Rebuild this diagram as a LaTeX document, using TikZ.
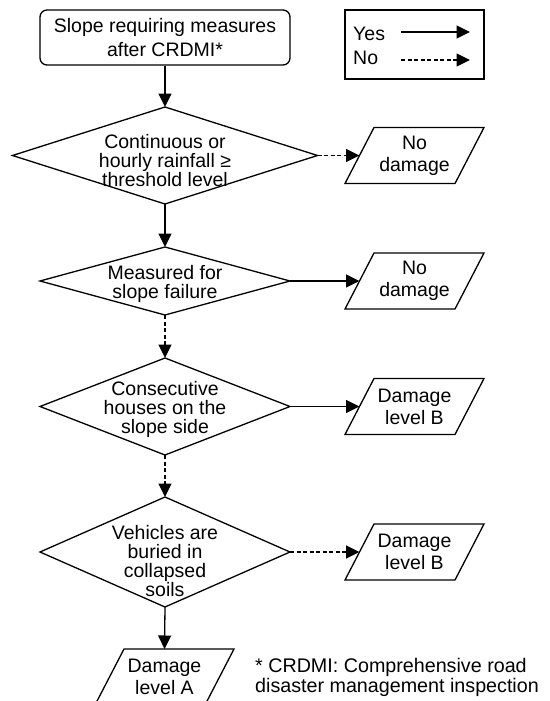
\documentclass[tikz,border=0pt]{standalone}
\usepackage{fontspec}
\setmainfont{Liberation Sans}
\usetikzlibrary{shapes.geometric,arrows.meta}
\begin{document}
\begin{tikzpicture}[x=1pt,y=1pt,
  every node/.style={font=\fontsize{19.5}{22}\selectfont},
  outline/.style={draw, line width=1.3pt},
  startbox/.style={outline, rounded corners=7pt, minimum width=250pt,
    minimum height=55pt, align=center, inner sep=0pt,
    font=\fontsize{19.5}{24}\selectfont},
  decision/.style={outline, diamond, inner sep=0pt, outer sep=0pt},
  dtext/.style={align=center, inner sep=0pt, font=\fontsize{19.5}{19}\selectfont},
  outcome/.style={minimum width=110pt, minimum height=56pt, inner sep=0pt,
    outer sep=0pt, align=center},
  yes/.style={line width=1.3pt, -{Triangle[length=13.5pt,width=13pt]}},
  no/.style={yes, dash pattern=on 4pt off 2.5pt},
]
\useasboundingbox (0,0) rectangle (549,-701);

% start of the procedure
\node[startbox] (start) at (165,-37.5) {Slope requiring measures\\after CRDMI*};

% legend
\node[outline, minimum width=139pt, minimum height=69pt, inner sep=0pt] (legend) at (414.5,-44.5) {};
\node[anchor=west, inner sep=0pt] (yes) at (353,-34) {Yes};
\node[anchor=west, inner sep=0pt] (no) at (353,-58) {No};
\coordinate (ya) at (401,-32);
\coordinate (yb) at (470,-32);
\coordinate (na) at (401,-60);
\coordinate (nb) at (470,-60);
\draw[yes] (ya) -- (yb);
\draw[no] (na) -- (nb);

% decisions
\node[decision, minimum width=305pt, minimum height=97pt] (d1) at (165,-155.5) {};
\node[dtext] (t1) at ([yshift=-5.5pt]d1.center) {Continuous or\\hourly rainfall ≥\\threshold level};
\node[decision, minimum width=250pt, minimum height=68pt] (d2) at (165,-281) {};
\node[dtext] (t2) at ([yshift=-2.5pt]d2.center) {Measured for\\slope failure};
\node[decision, minimum width=250pt, minimum height=97pt] (d3) at (165,-406.5) {};
\node[dtext] (t3) at ([yshift=-2.5pt]d3.center) {Consecutive\\houses on the\\slope side};
\node[decision, minimum width=250pt, minimum height=110pt] (d4) at (165,-552) {};
\node[dtext] (t4) at ([yshift=-9pt]d4.center) {Vehicles are\\buried in\\collapsed\\soils};

% outcomes
\node[outcome] (p1) at (414.5,-155.5) {No\\damage};
\node[outcome] (p2) at (414.5,-281) {No\\damage};
\node[outcome] (p3) at (414.5,-406.5) {Damage\\level B};
\node[outcome] (p4) at (414.5,-552) {Damage\\level B};
\node[outcome] (p5) at (164.5,-677) {Damage\\level A};
\foreach \p in {p1,p2,p3,p4,p5}
  \draw[outline] ([xshift=-14.5pt]\p.south west) -- ([xshift=-14.5pt]\p.south east)
    -- ([xshift=14.5pt]\p.north east) -- ([xshift=14.5pt]\p.north west) -- cycle;

% footnote
\node[anchor=west, align=left, inner sep=0pt, font=\fontsize{19.7}{20}\selectfont] (note)
  at (255,-677) {* CRDMI: Comprehensive road\\disaster management inspection};

% connectors
\draw[yes] (start.south) -- (d1.north);
\draw[no]  (d1.east) -- (p1.west);
\draw[yes] (d1.south) -- (d2.north);
\draw[yes] (d2.east) -- (p2.west);
\draw[no]  (d2.south) -- (d3.north);
\draw[yes] (d3.east) -- (p3.west);
\draw[no]  (d3.south) -- (d4.north);
\draw[no]  (d4.east) -- (p4.west);
\draw[yes] (d4.south) -- (p5.north);
\end{tikzpicture}
\end{document}
